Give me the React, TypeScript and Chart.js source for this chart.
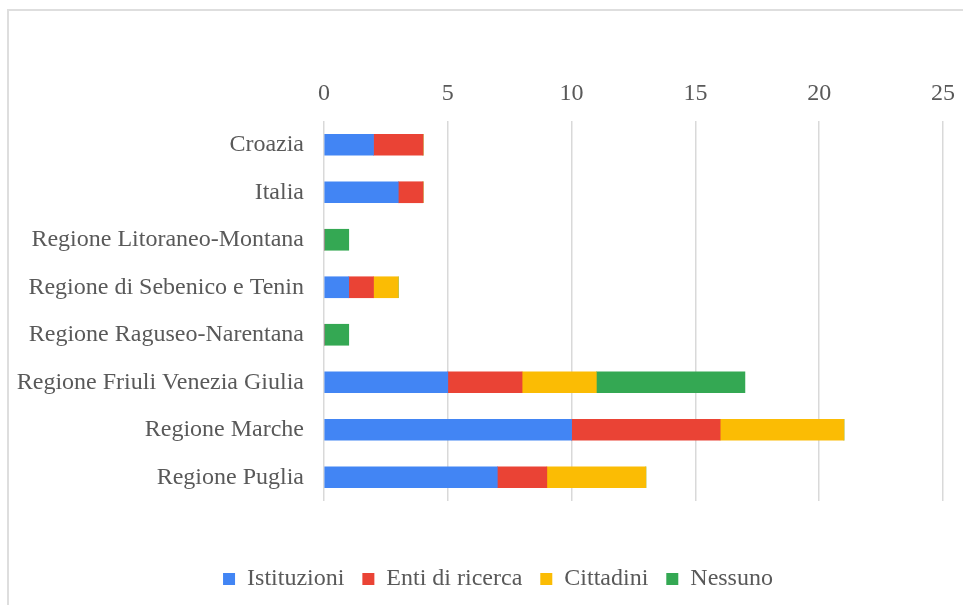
import React, { useEffect, useRef } from "react";
import { Chart, registerables } from "chart.js";

Chart.register(...registerables);

const categories = [
  "Croazia",
  "Italia",
  "Regione Litoraneo-Montana",
  "Regione di Sebenico e Tenin",
  "Regione Raguseo-Narentana",
  "Regione Friuli Venezia Giulia",
  "Regione Marche",
  "Regione Puglia",
];
const istituzioni = [2, 3, 0, 1, 0, 5, 10, 7];
const entiDiRicerca = [2, 1, 0, 1, 0, 3, 6, 2];
const cittadini = [0, 0, 0, 1, 0, 3, 5, 4];
const nessuno = [0, 0, 1, 0, 1, 6, 0, 0];
const xTicks = [0, 5, 10, 15, 20, 25];

const FONT = "'Liberation Serif', 'Times New Roman', serif";
const TEXT = "#595959";

const legendShift = {
  id: "legendShift",
  afterLayout(chart: any) {
    const lg = chart.legend;
    if (lg) {
      lg.left += 22;
      lg.right += 22;
    }
  },
};

export default function App() {
  const ref = useRef<HTMLCanvasElement | null>(null);
  useEffect(() => {
    document.body.style.margin = "0";
    document.body.style.overflow = "hidden";
    if (!ref.current) return;
    const chart = new Chart(ref.current, {
      type: "bar",
      data: {
        labels: categories,
        datasets: [
          { label: "Istituzioni", data: istituzioni, backgroundColor: "#4285F4" },
          { label: "Enti di ricerca", data: entiDiRicerca, backgroundColor: "#EA4335" },
          { label: "Cittadini", data: cittadini, backgroundColor: "#FBBC04" },
          { label: "Nessuno", data: nessuno, backgroundColor: "#34A853" },
        ].map((d) => ({ ...d, barThickness: 21, borderWidth: 0 })),
      },
      options: {
        indexAxis: "y",
        animation: false,
        responsive: false,
        maintainAspectRatio: false,
        layout: { padding: { left: 0, right: 20, top: 70, bottom: 4 } },
        plugins: {
          legend: {
            position: "bottom",
            labels: {
              font: { family: FONT, size: 24 },
              color: TEXT,
              boxWidth: 12,
              boxHeight: 12,
              padding: 18,
            },
          },
          tooltip: { enabled: false },
        },
        scales: {
          x: {
            position: "top",
            stacked: true,
            min: 0,
            max: 25,
            afterBuildTicks: (s: any) => {
              s.ticks = xTicks.map((v) => ({ value: v }));
            },
            afterFit: (s: any) => {
              s.height = 40;
              s.paddingLeft = 0;
              s.paddingRight = 12;
            },
            ticks: {
              font: { family: FONT, size: 24 },
              color: TEXT,
              padding: 13,
            },
            grid: { color: "#d9d9d9", lineWidth: 1.5, drawTicks: false },
            border: { display: false },
          },
          xb: {
            type: "linear",
            position: "bottom",
            display: true,
            afterFit: (s: any) => {
              s.height = 48;
              s.paddingLeft = 0;
              s.paddingRight = 0;
            },
            ticks: { display: false },
            grid: { display: false, drawTicks: false },
            border: { display: false },
          },
          y: {
            stacked: true,
            afterFit: (s: any) => {
              s.width = 315;
            },
            ticks: {
              font: { family: FONT, size: 24 },
              color: TEXT,
              padding: 20,
            },
            grid: { display: false, drawTicks: false },
            border: { display: false },
          },
        },
      } as any,
      plugins: [legendShift],
    });
    return () => chart.destroy();
  }, []);
  return (
    <div
      style={{
        position: "absolute",
        left: 7,
        top: 9,
        width: 954,
        height: 594,
        borderLeft: "2px solid #dedede",
        borderTop: "2px solid #dedede",
        background: "#fff",
      }}
    >
      <canvas ref={ref} width={954} height={594} style={{ display: "block" }} />
    </div>
  );
}
